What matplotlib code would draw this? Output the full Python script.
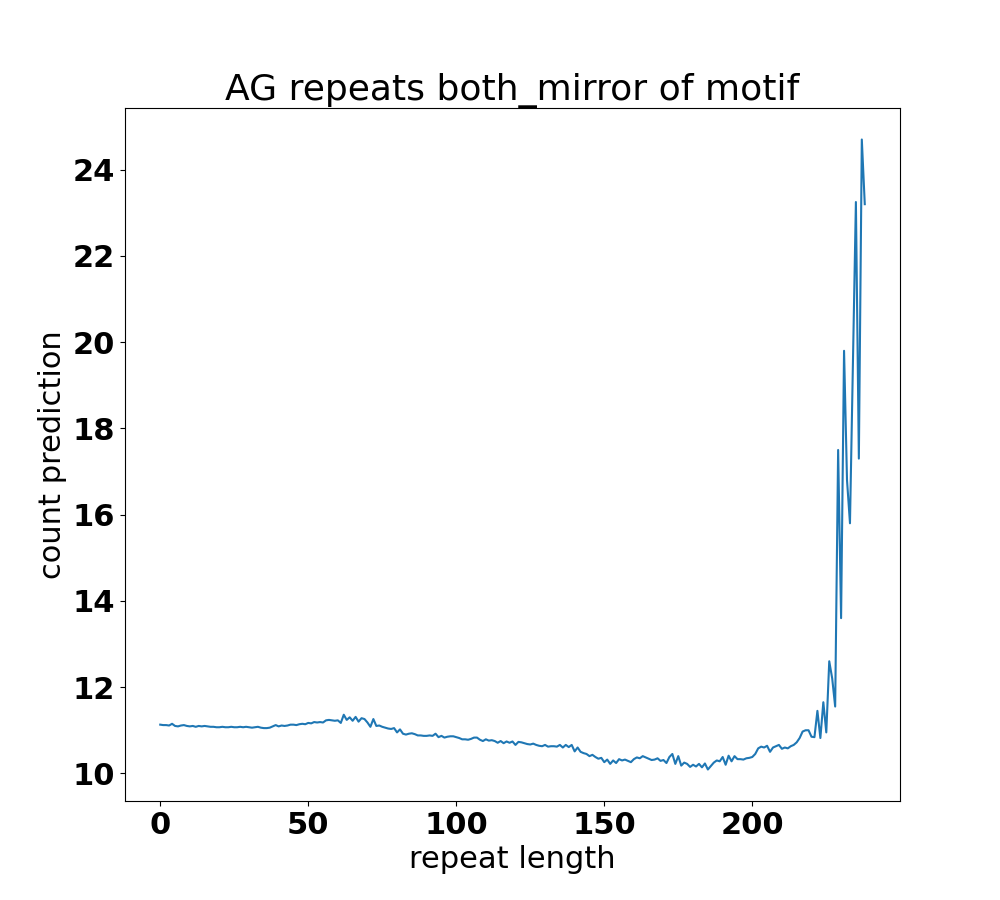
import numpy as np
import matplotlib
matplotlib.use('Agg')
import matplotlib.pyplot as plt

# count prediction per repeat length
count_pred = [
    11.13, 11.12, 11.12, 11.11, 11.15, 11.10, 11.09, 11.11, 11.12, 11.10,
    11.09, 11.10, 11.08, 11.10, 11.09, 11.10, 11.09, 11.08, 11.08, 11.07,
    11.07, 11.08, 11.07, 11.07, 11.08, 11.07, 11.07, 11.08, 11.07, 11.08,
    11.07, 11.06, 11.07, 11.08, 11.06, 11.05, 11.05, 11.06, 11.09, 11.12,
    11.09, 11.11, 11.10, 11.11, 11.13, 11.13, 11.12, 11.14, 11.15, 11.14,
    11.17, 11.16, 11.19, 11.18, 11.19, 11.18, 11.23, 11.24, 11.23, 11.22,
    11.23, 11.17, 11.36, 11.24, 11.30, 11.22, 11.31, 11.20, 11.28, 11.26,
    11.18, 11.08, 11.26, 11.10, 11.11, 11.08, 11.06, 11.04, 11.03, 11.05,
    10.95, 11.02, 10.92, 10.90, 10.92, 10.93, 10.91, 10.88, 10.88, 10.87,
    10.87, 10.88, 10.87, 10.92, 10.84, 10.87, 10.83, 10.85, 10.86, 10.86,
    10.84, 10.82, 10.79, 10.79, 10.78, 10.80, 10.83, 10.83, 10.78, 10.75,
    10.79, 10.76, 10.77, 10.75, 10.71, 10.75, 10.70, 10.74, 10.71, 10.74,
    10.66, 10.73, 10.72, 10.70, 10.68, 10.67, 10.69, 10.66, 10.64, 10.63,
    10.66, 10.62, 10.63, 10.63, 10.62, 10.66, 10.60, 10.66, 10.61, 10.66,
    10.51, 10.60, 10.50, 10.47, 10.45, 10.40, 10.43, 10.38, 10.34, 10.36,
    10.26, 10.32, 10.22, 10.30, 10.24, 10.33, 10.30, 10.32, 10.29, 10.26,
    10.33, 10.37, 10.35, 10.40, 10.37, 10.34, 10.31, 10.32, 10.35, 10.29,
    10.31, 10.24, 10.38, 10.45, 10.22, 10.40, 10.18, 10.25, 10.22, 10.15,
    10.20, 10.16, 10.22, 10.14, 10.23, 10.09, 10.17, 10.25, 10.30, 10.28,
    10.38, 10.20, 10.41, 10.28, 10.40, 10.33, 10.33, 10.32, 10.35, 10.36,
    10.38, 10.45, 10.58, 10.62, 10.60, 10.64, 10.50, 10.60, 10.63, 10.66,
    10.57, 10.60, 10.58, 10.63, 10.66, 10.72, 10.82, 10.97, 11.00, 11.00,
    10.85, 10.84, 11.45, 10.82, 11.65, 10.95, 12.60, 12.20, 11.55, 17.50,
    13.60, 19.80, 16.80, 15.80, 19.50, 23.25, 17.30, 24.70, 23.20,
]
repeat_length = np.arange(len(count_pred))

plt.figure(figsize=(10, 9), dpi=100)
plt.plot(repeat_length, count_pred, color='#1f77b4', linewidth=1.5)
plt.title('AG repeats both_mirror of motif', fontsize=26)
plt.xlabel('repeat length', fontsize=22)
plt.ylabel('count prediction', fontsize=22)
plt.xticks(fontsize=22, fontweight='bold')
plt.yticks(fontsize=22, fontweight='bold')
plt.savefig('out.png')
